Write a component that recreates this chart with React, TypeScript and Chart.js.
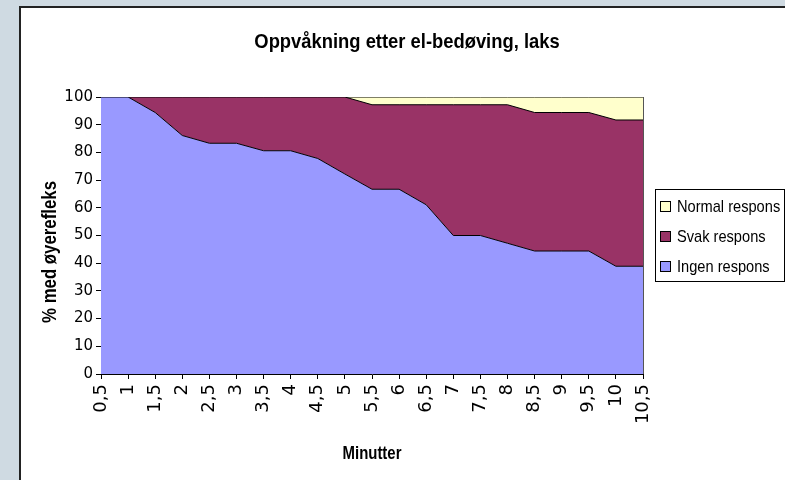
import { useEffect, useRef } from 'react';
import { Chart, registerables } from 'chart.js';

Chart.register(...registerables);

const minutes = ['0,5', '1', '1,5', '2', '2,5', '3', '3,5', '4', '4,5', '5', '5,5', '6', '6,5', '7', '7,5', '8', '8,5', '9', '9,5', '10', '10,5'];
const ingenRespons = [100, 100, 94.4, 86.1, 83.3, 83.3, 80.6, 80.6, 77.8, 72.2, 66.7, 66.7, 61.1, 50, 50, 47.2, 44.4, 44.4, 44.4, 38.9, 38.9];
const svakRespons = [0, 0, 5.6, 13.9, 16.7, 16.7, 19.4, 19.4, 22.2, 27.8, 30.5, 30.5, 36.1, 47.2, 47.2, 50, 50, 50, 50, 52.8, 52.8];
const normalRespons = [0, 0, 0, 0, 0, 0, 0, 0, 0, 0, 2.8, 2.8, 2.8, 2.8, 2.8, 2.8, 5.6, 5.6, 5.6, 8.3, 8.3];
const seriesNames = ['Ingen respons', 'Svak respons', 'Normal respons'];
const chartTitle = 'Oppvåkning etter el-bedøving, laks';
const xTitle = 'Minutter';
const yTitle = '% med øyerefleks';

const SANS = '"Liberation Sans", Arial, sans-serif';
const TICKFONT = '"DejaVu Sans", "Liberation Sans", sans-serif';
const COLORS = ['#9999FF', '#993366', '#FFFFCC'];

function narrowText(ctx: CanvasRenderingContext2D, text: string, x: number, y: number, sx: number, rot = 0) {
  ctx.save();
  ctx.translate(x, y);
  if (rot) ctx.rotate(rot);
  ctx.scale(sx, 1);
  ctx.fillText(text, 0, 0);
  ctx.restore();
}

const decorPlugin = {
  id: 'decor',
  afterDraw(chart: any) {
    const ctx = chart.ctx as CanvasRenderingContext2D;
    const a = chart.chartArea;
    ctx.save();
    // right edge of plot area
    ctx.strokeStyle = '#555555';
    ctx.lineWidth = 1;
    ctx.beginPath();
    ctx.moveTo(Math.round(a.right) + 0.5, a.top);
    ctx.lineTo(Math.round(a.right) + 0.5, a.bottom);
    ctx.stroke();

    ctx.fillStyle = '#000';
    ctx.textAlign = 'center';
    ctx.textBaseline = 'alphabetic';
    // title
    ctx.font = `bold 21px ${SANS}`;
    narrowText(ctx, chartTitle, 407, 48, 0.875);

    // x title
    ctx.font = `bold 18px ${SANS}`;
    narrowText(ctx, xTitle, (a.left + a.right) / 2, 459, 0.83);

    // y title
    ctx.font = `bold 20px ${SANS}`;
    narrowText(ctx, yTitle, 56, 252, 0.84, -Math.PI / 2);

    // legend
    const bx = 655, by = 189, bw = 129, bh = 92;
    ctx.strokeStyle = '#000';
    ctx.fillStyle = '#fff';
    ctx.fillRect(bx, by, bw, bh);
    ctx.strokeRect(bx + 0.5, by + 0.5, bw, bh);
    const order = [2, 1, 0];
    const centers = [206.5, 236, 266];
    ctx.font = `17px ${SANS}`;
    ctx.textAlign = 'left';
    ctx.textBaseline = 'middle';
    order.forEach((di, i) => {
      const cy = centers[i];
      ctx.fillStyle = COLORS[di];
      ctx.fillRect(660, Math.round(cy - 5.5), 11, 11);
      ctx.strokeStyle = '#000';
      ctx.strokeRect(660.5, Math.round(cy - 5.5) + 0.5, 10, 10);
      ctx.fillStyle = '#000';
      narrowText(ctx, chart.data.datasets[di].label, 677, cy + 1, 0.86);
    });
    ctx.restore();
  },
};

export default function App() {
  const ref = useRef<HTMLCanvasElement | null>(null);

  useEffect(() => {
    document.body.style.margin = '0';
    const canvas = ref.current;
    if (!canvas) return;
    const mk = (label: string, data: number[], color: string, fill: any) => ({
      label,
      data,
      backgroundColor: color,
      borderColor: '#000000',
      borderWidth: 1,
      pointRadius: 0,
      pointHoverRadius: 0,
      tension: 0,
      fill,
    });
    const chart = new Chart(canvas, {
      type: 'line',
      data: {
        labels: minutes,
        datasets: [
          mk(seriesNames[0], ingenRespons, COLORS[0], 'origin'),
          mk(seriesNames[1], svakRespons, COLORS[1], '-1'),
          mk(seriesNames[2], normalRespons, COLORS[2], '-1'),
        ],
      },
      options: {
        responsive: false,
        animation: false,
        events: [],
        layout: { padding: { top: 97, right: 142, left: 0, bottom: 0 } },
        plugins: {
          legend: { display: false },
          title: { display: false },
          tooltip: { enabled: false },
        },
        scales: {
          x: {
            type: 'category',
            offset: false,
            grid: { drawOnChartArea: false, drawTicks: true, tickLength: 5, color: '#000' },
            border: { display: true, color: '#000', width: 1 },
            ticks: {
              autoSkip: false,
              minRotation: 90,
              maxRotation: 90,
              padding: 5,
              color: '#000',
              font: { family: TICKFONT, size: 18 },
            },
            afterFit: (s: any) => { s.height = 106; },
          },
          y: {
            stacked: true,
            min: 0,
            max: 100,
            grid: { drawOnChartArea: false, drawTicks: true, tickLength: 5, color: '#000' },
            border: { display: true, color: '#000', width: 1 },
            ticks: {
              stepSize: 10,
              padding: 3,
              color: '#000',
              font: { family: TICKFONT, size: 15 },
            },
            afterFit: (s: any) => { s.width = 101; },
          },
        },
      },
      plugins: [decorPlugin],
    } as any);
    return () => chart.destroy();
  }, []);

  return (
    <div style={{ position: 'relative', width: 785, height: 480, background: '#cfdae2', overflow: 'hidden' }}>
      <div
        style={{
          position: 'absolute',
          left: 19,
          top: 6,
          right: 0,
          bottom: 0,
          background: '#ffffff',
          borderTop: '2px solid #222',
          borderLeft: '2px solid #222',
        }}
      />
      <canvas ref={ref} width={785} height={480} style={{ position: 'absolute', left: 0, top: 0, width: 785, height: 480 }} />
    </div>
  );
}
